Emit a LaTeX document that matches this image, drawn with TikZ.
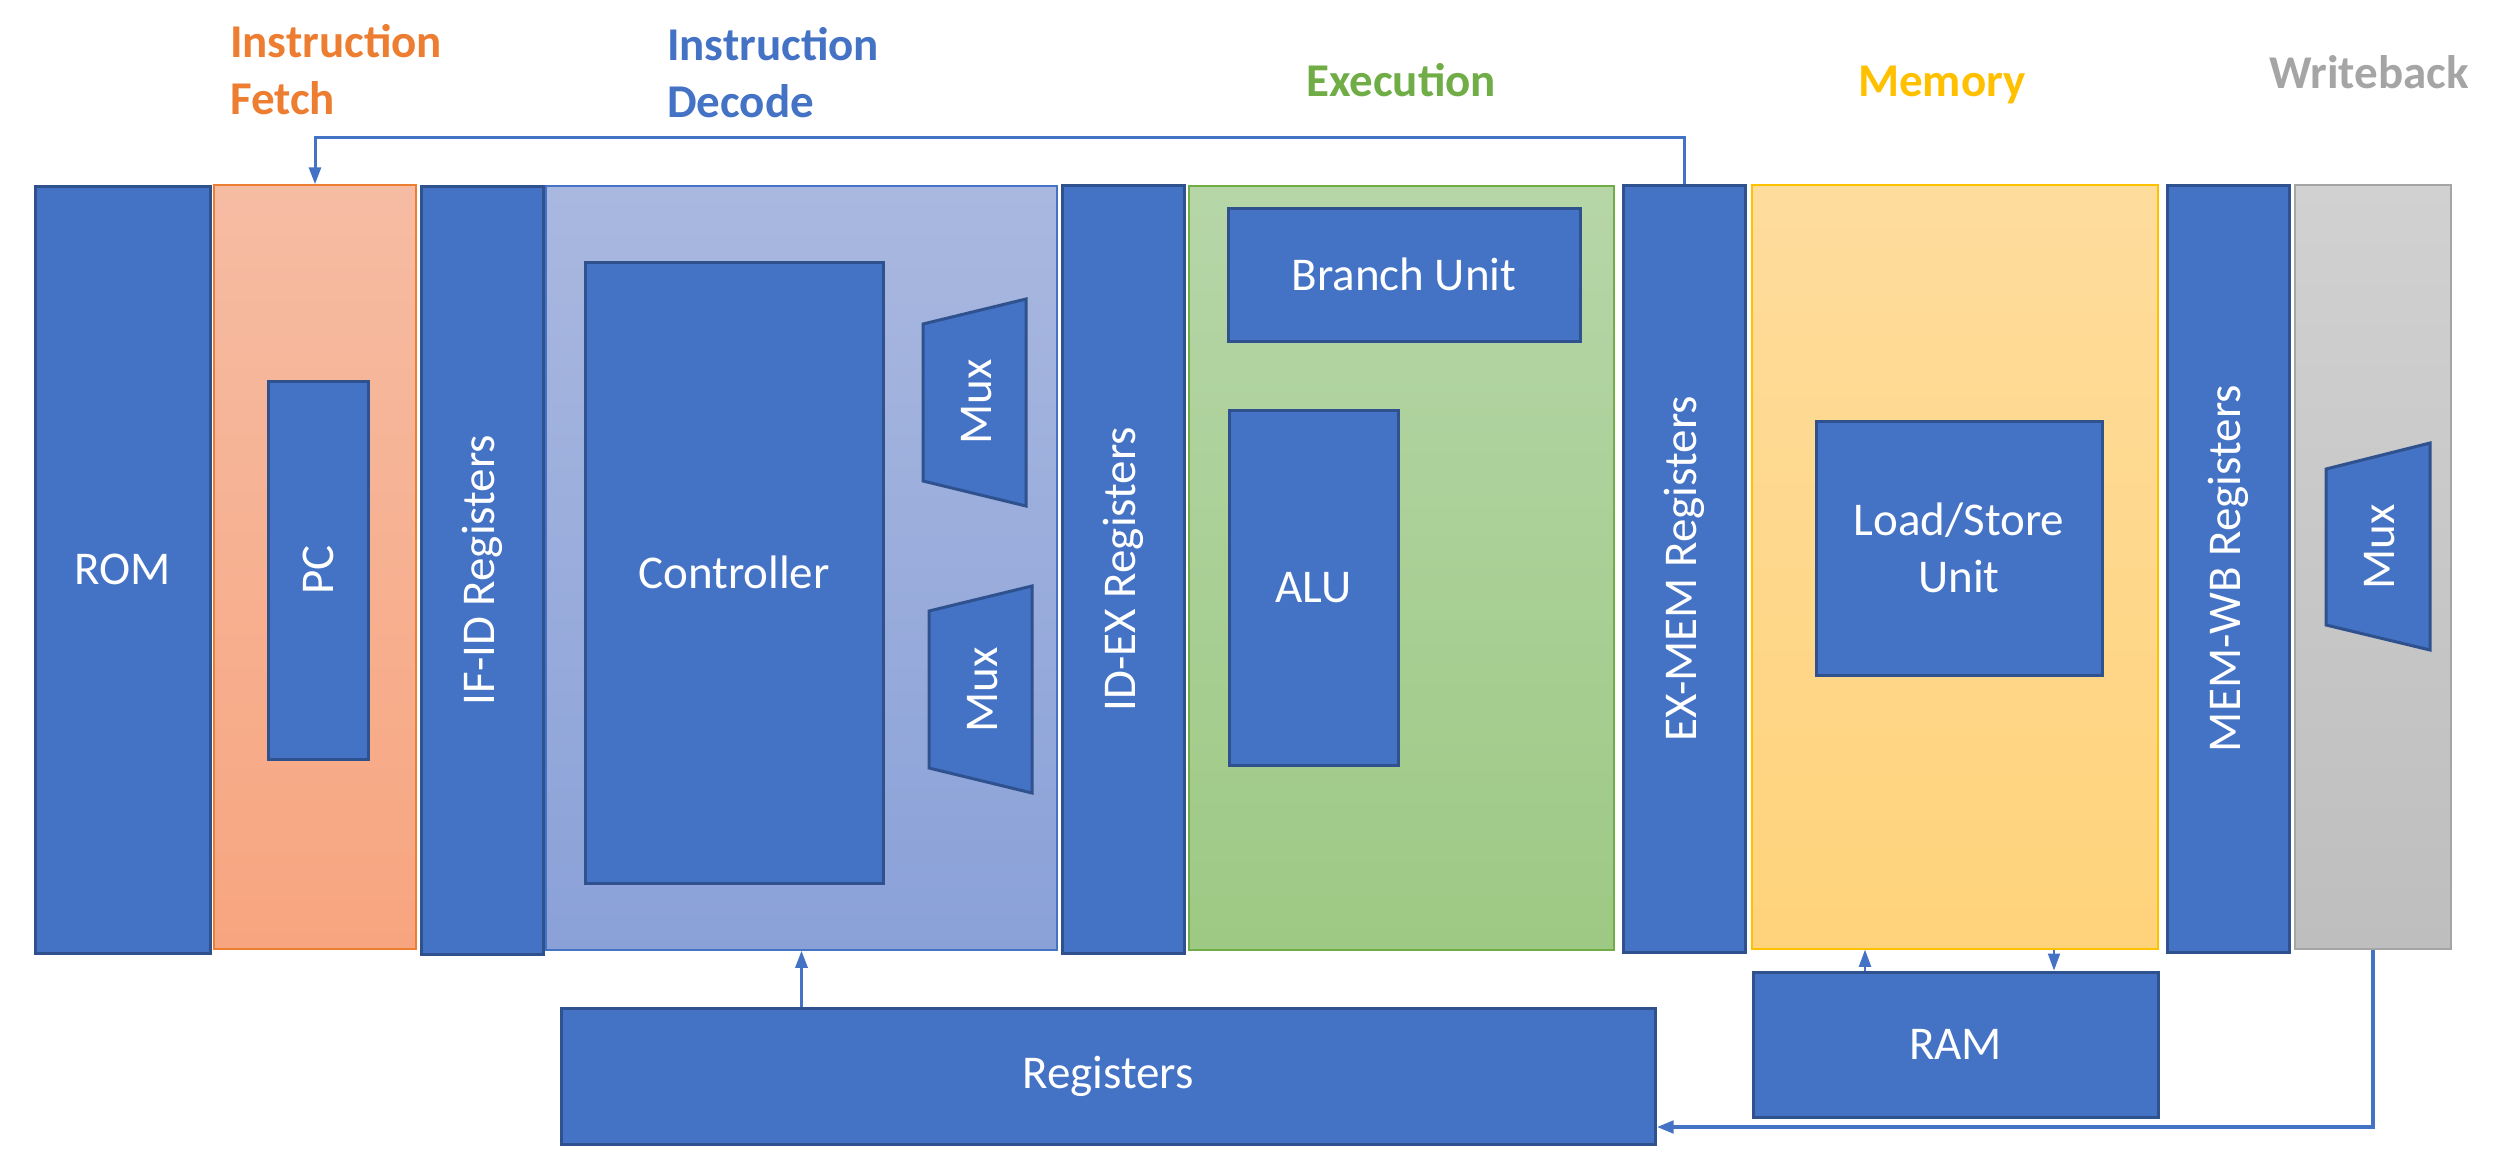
\documentclass[tikz,border=0pt]{standalone}
\usepackage{fontspec}
\setmainfont{Carlito}
\usetikzlibrary{arrows.meta,calc}
\definecolor{boxblue}{HTML}{4472C4}
\definecolor{boxline}{HTML}{2F528F}
\definecolor{orgA}{HTML}{F6BCA3}
\definecolor{orgB}{HTML}{F7A57F}
\definecolor{orgL}{HTML}{ED7D31}
\definecolor{bluA}{HTML}{A9B8DF}
\definecolor{bluB}{HTML}{8AA1D8}
\definecolor{grnA}{HTML}{B6D6A8}
\definecolor{grnB}{HTML}{9DC984}
\definecolor{grnL}{HTML}{70AD47}
\definecolor{ylwA}{HTML}{FEDC9C}
\definecolor{ylwB}{HTML}{FFD37B}
\definecolor{ylwL}{HTML}{FFC000}
\definecolor{gryA}{HTML}{D1D1D1}
\definecolor{gryB}{HTML}{BEBEBE}
\definecolor{gryL}{HTML}{A5A5A5}
\newcommand\boxfont{\fontsize{47}{57}\selectfont}
\begin{document}
\begin{tikzpicture}[x=1pt,y=-1pt,
  blk/.style={draw=boxline, line width=3pt, fill=boxblue, text=white, inner sep=0pt, font=\boxfont, align=center},
  panel/.style={line width=1.5pt, inner sep=0pt},
  stage/.style={font=\boxfont\bfseries, anchor=base west, align=left, inner sep=0pt},
  muxshape/.style={draw=boxline, line width=3pt, fill=boxblue},
  muxtxt/.style={text=white, font=\boxfont, rotate=90, inner sep=0pt},
  arr/.style={draw=boxblue, line width=3pt, -{Triangle[length=17pt,width=12pt]}}
]
\useasboundingbox (0,0) rectangle (2513,1157);
\fill[white] (0,0) rectangle (2513,1157);

% stage panels
\node[panel, draw=orgL, top color=orgA, bottom color=orgB, minimum width=202pt, minimum height=764pt] (ifp) at (315,567) {};
\node[panel, draw=boxblue, top color=bluA, bottom color=bluB, minimum width=511pt, minimum height=764pt] (idp) at (801.5,568) {};
\node[panel, draw=grnL, top color=grnA, bottom color=grnB, minimum width=425pt, minimum height=764pt] (exp) at (1401.5,568) {};
\node[panel, draw=ylwL, top color=ylwA, bottom color=ylwB, minimum width=406pt, minimum height=764pt] (memp) at (1955,567) {};
\node[panel, draw=gryL, top color=gryA, bottom color=gryB, minimum width=156pt, minimum height=764pt] (wbp) at (2373,567) {};

% blocks
\node[blk, minimum width=175pt, minimum height=767pt] (rom) at (122.5,569.5) {ROM};
\node[blk, rotate=90, minimum width=378pt, minimum height=100pt] (pc) at (318,570) {PC};
\node[blk, rotate=90, minimum width=768pt, minimum height=122pt] (ifid) at (482,570) {IF-ID Registers};
\node[blk, minimum width=298pt, minimum height=621pt] (ctrl) at (734,572.5) {Controller};
\node[blk, rotate=90, minimum width=768pt, minimum height=122pt] (idex) at (1123,569) {ID-EX Registers};
\node[blk, minimum width=352pt, minimum height=133pt] (branch) at (1404,274.5) {Branch Unit};
\node[blk, minimum width=169pt, minimum height=355pt] (alu) at (1313.5,587.5) {ALU};
\node[blk, rotate=90, minimum width=767pt, minimum height=122pt] (exmem) at (1684,568.5) {EX-MEM Registers};
\node[blk, minimum width=286pt, minimum height=254pt] (lsu) at (1959,548) {Load/Store\\Unit};
\node[blk, rotate=90, minimum width=767pt, minimum height=122pt] (memwb) at (2228,568.5) {MEM-WB Registers};
\node[blk, minimum width=1094pt, minimum height=136pt] (regs) at (1108,1076) {Registers};
\node[blk, minimum width=405pt, minimum height=145pt] (ram) at (1955.5,1044.5) {RAM};

% muxes
\draw[muxshape] (923,324) -- (1026,299) -- (1026,506) -- (923,481) -- cycle;
\node[muxtxt] (mux1) at (977,402) {Mux};
\draw[muxshape] (929,611) -- (1032,586) -- (1032,793) -- (929,768) -- cycle;
\node[muxtxt] (mux2) at (983,690) {Mux};
\draw[muxshape] (2326,469) -- (2430,443) -- (2430,650) -- (2326,625) -- cycle;
\node[muxtxt] (mux3) at (2380,547) {Mux};

% stage labels
\node[stage, text=orgL] (lif) at (230,114) {Instruction\\Fetch};
\node[stage, text=boxblue] (lid) at (667,117) {Instruction\\Decode};
\node[stage, text=grnL] (lex) at (1306,96) {Execution};
\node[stage, text=ylwL] (lmem) at (1858,96) {Memory};
\node[stage, text=gryL] (lwb) at (2269,88) {Writeback};

% connectors
\coordinate (loop) at (0,137);
\draw[arr] (exmem.east) -- (exmem.east |- loop) -| (ifp.north);
\draw[arr] (regs.north -| idp.south) -- (idp.south);
\coordinate (rup) at (1865,0);
\coordinate (rdn) at (2054,0);
\draw[arr, line width=2pt] (ram.north -| rup) -- (memp.south -| rup);
\draw[arr, line width=2pt] (memp.south -| rdn) -- (ram.north -| rdn);
\coordinate (wbl) at (0,1127);
\draw[arr, line width=4.5pt] (wbp.south) |- (regs.east |- wbl);
\end{tikzpicture}
\end{document}
